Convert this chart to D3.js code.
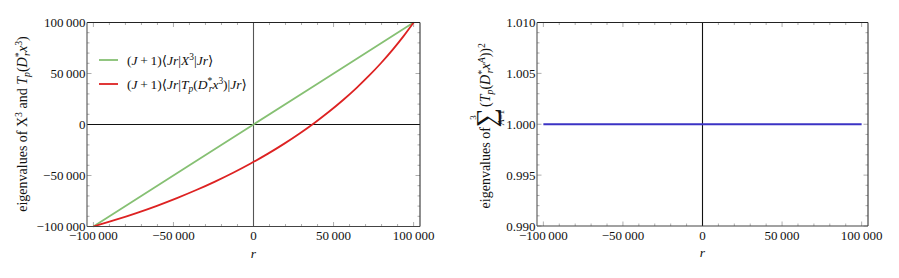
<!DOCTYPE html>
<html><head><meta charset="utf-8">
<script src="https://cdn.jsdelivr.net/npm/d3@7"></script>
<style>
body{margin:0;background:#fff;}
svg{display:block;}
svg text{font-family:"Liberation Serif","Times New Roman",Times,"DejaVu Serif",serif;fill:#111;}
</style></head><body>
<svg id="c" width="899" height="278"></svg>
<script>
// ---- data ----
const xTicks = [-100000, -50000, 0, 50000, 100000];
const xTickLabels = ["\u2212100\u2009000", "\u221250\u2009000", "0", "50\u2009000", "100\u2009000"];
const yTicksLeft = [-100000, -50000, 0, 50000, 100000];
const yTickLabelsLeft = ["\u2212100\u2009000", "\u221250\u2009000", "0", "50\u2009000", "100\u2009000"];
const yTicksRight = [0.990, 0.995, 1.000, 1.005, 1.010];
const yTickLabelsRight = ["0.990", "0.995", "1.000", "1.005", "1.010"];

// green: (J+1)<Jr|X^3|Jr>
const rGreen = [-100000, 0, 100000];
const valGreen = [-100000, 0, 100000];
// red: (J+1)<Jr|Tp(D x^3)|Jr>
const rRed = [-100000, -86390, -73160, -60310, -47840, -35750, -24040, -12710, -1760, 8810, 19000,
              28810, 38240, 47290, 55960, 64250, 72160, 79690, 86840, 93610, 100000];
const valRed = [-100000, -93610, -86840, -79690, -72160, -64250, -55960, -47290, -38240, -28810, -19000,
                -8810, 1760, 12710, 24040, 35750, 47840, 60310, 73160, 86390, 100000];
// blue: sum_A (Tp(D x^A))^2
const rBlue = [-100000, -50000, 0, 50000, 100000];
const valBlue = [1.0, 1.0, 1.0, 1.0, 1.0];

const svg = d3.select("#c");

function panel(opt){
  const g = svg.append("g");
  const x = d3.scaleLinear().domain([-104000, 104000]).range([opt.x0, opt.x1]);
  const y = d3.scaleLinear().domain(opt.ydom).range([opt.y1, opt.y0]);
  const tickCol = "#999";
  const xMinor = d3.range(-100000, 100001, 10000);
  xMinor.forEach(v=>{
    const maj = xTicks.includes(v);
    const L = maj ? 4.5 : 2.5;
    g.append("line").attr("x1",x(v)).attr("x2",x(v)).attr("y1",opt.y1).attr("y2",opt.y1-L)
      .attr("stroke",tickCol).attr("stroke-width",0.8);
    g.append("line").attr("x1",x(v)).attr("x2",x(v)).attr("y1",opt.y0).attr("y2",opt.y0+L)
      .attr("stroke",tickCol).attr("stroke-width",0.8);
  });
  opt.yMinor.forEach(v=>{
    const maj = opt.yTicks.some(t=>Math.abs(t-v)<1e-9);
    const L = maj ? 4.5 : 2.5;
    g.append("line").attr("y1",y(v)).attr("y2",y(v)).attr("x1",opt.x0).attr("x2",opt.x0+L)
      .attr("stroke",tickCol).attr("stroke-width",0.8);
    g.append("line").attr("y1",y(v)).attr("y2",y(v)).attr("x1",opt.x1).attr("x2",opt.x1-L)
      .attr("stroke",tickCol).attr("stroke-width",0.8);
  });
  g.append("line").attr("x1",x(0)).attr("x2",x(0)).attr("y1",opt.y0).attr("y2",opt.y1)
    .attr("stroke",opt.vAxisCol).attr("stroke-width",1.1);
  if (opt.hAxis) {
    g.append("line").attr("x1",opt.x0).attr("x2",opt.x1).attr("y1",y(0)).attr("y2",y(0))
      .attr("stroke","#111").attr("stroke-width",1.1);
  }
  const line = d3.line().x(d=>x(d[0])).y(d=>y(d[1])).curve(d3.curveCatmullRom.alpha(0.5));
  opt.series.forEach(s=>{
    const data = s.r.map((r,i)=>[r, s.v[i]]);
    g.append("path").datum(data).attr("d", line).attr("fill","none")
      .attr("stroke", s.color).attr("stroke-width", s.w);
  });
  g.append("line").attr("x1",opt.x0).attr("x2",opt.x1).attr("y1",opt.y0).attr("y2",opt.y0).attr("stroke","#222").attr("stroke-width",1.1);
  g.append("line").attr("x1",opt.x1).attr("x2",opt.x1).attr("y1",opt.y0).attr("y2",opt.y1).attr("stroke","#333").attr("stroke-width",1.1);
  g.append("line").attr("x1",opt.x0).attr("x2",opt.x1).attr("y1",opt.y1).attr("y2",opt.y1).attr("stroke","#444").attr("stroke-width",1.1);
  g.append("line").attr("x1",opt.x0).attr("x2",opt.x0).attr("y1",opt.y0).attr("y2",opt.y1).attr("stroke","#555").attr("stroke-width",1.1);
  xTicks.forEach((v,i)=>{
    g.append("text").attr("x",x(v)).attr("y",opt.y1+13.5).attr("text-anchor","middle")
      .attr("font-size",13).text(xTickLabels[i]);
  });
  opt.yTicks.forEach((v,i)=>{
    g.append("text").attr("x",opt.x0-1.5).attr("y",y(v)+4.5).attr("text-anchor","end")
      .attr("font-size",13).text(opt.yLabels[i]);
  });
  g.append("text").attr("x",(opt.x0+opt.x1)/2).attr("y",opt.y1+31).attr("text-anchor","middle")
    .attr("font-size",13.5).attr("font-style","italic").text("r");
  return {x,y,g};
}

function rich(textSel, segs, fs){
  let cur = 0;
  segs.forEach(s=>{
    const shift = s.sh || 0;
    const size = s.small ? fs*0.7 : fs;
    const ts = textSel.append("tspan").text(s.t).attr("font-size", size);
    const dy = -(shift - cur);
    if (dy !== 0) ts.attr("dy", dy);
    if (s.it) ts.attr("font-style","italic");
    if (s.dx) ts.attr("dx", s.dx);
    cur = shift;
  });
}

panel({x0:87, x1:420, y0:22.5, y1:226.5, ydom:[-100000,100000],
  yTicks:yTicksLeft, yLabels:yTickLabelsLeft, yMinor:d3.range(-100000,100001,10000),
  vAxisCol:"#555", hAxis:true,
  series:[{r:rGreen, v:valGreen, color:"#86c073", w:1.8},
          {r:rRed, v:valRed, color:"#dd2222", w:1.8}]});

panel({x0:537, x1:868, y0:22.5, y1:226, ydom:[0.99,1.01],
  yTicks:yTicksRight, yLabels:yTickLabelsRight, yMinor:d3.range(0,21).map(i=>0.99+i*0.001),
  vAxisCol:"#111", hAxis:false,
  series:[{r:rBlue, v:valBlue, color:"#3b33c4", w:1.8}]});

// legend
const Dr = [{t:"D",it:1},{t:"*",sh:5,small:1},{t:"r",it:1,sh:-3,small:1,dx:-3.5}];
const leg = [{c:"#86c073", y:60, segs:[{t:"(",},{t:"J",it:1},{t:"\u2009+\u20091)\u27E8"},{t:"Jr",it:1},{t:"|"},{t:"X",it:1},{t:"3",sh:5,small:1},{t:"|",sh:0},{t:"Jr",it:1},{t:"\u27E9"}]},
             {c:"#dd2222", y:84, segs:[{t:"("},{t:"J",it:1},{t:"\u2009+\u20091)\u27E8"},{t:"Jr",it:1},{t:"|"},{t:"T",it:1},{t:"p",it:1,sh:-3,small:1},{t:"(",sh:0}].concat(Dr,[{t:"x",it:1,sh:0},{t:"3",sh:5,small:1},{t:")|",sh:0},{t:"Jr",it:1},{t:"\u27E9"}])}];
leg.forEach(l=>{
  svg.append("line").attr("x1",99).attr("x2",118).attr("y1",l.y).attr("y2",l.y).attr("stroke",l.c).attr("stroke-width",1.8);
  const t = svg.append("text").attr("x",127).attr("y",l.y+4.5).attr("font-size",13.5);
  rich(t, l.segs, 13.5);
});

// left y label
{
  const t = svg.append("text").attr("transform","translate(27,124) rotate(-90)").attr("text-anchor","middle").attr("font-size",14);
  rich(t, [{t:"eigenvalues of X"},{t:"3",sh:5,small:1},{t:" and ",sh:0},{t:"T",it:1},{t:"p",it:1,sh:-3,small:1},{t:"(",sh:0}].concat(Dr,[{t:"x",it:1,sh:0},{t:"3",sh:5,small:1},{t:")",sh:0}]), 14);
}
// right y label
{
  const g = svg.append("g").attr("transform","translate(490,124) rotate(-90)");
  const fs = 14;
  let xcur = 0;
  const t1 = g.append("text").attr("x",0).attr("y",0).attr("font-size",fs).text("eigenvalues of ");
  xcur += t1.node().getComputedTextLength();
  const sig = g.append("text").attr("x",xcur).attr("y",5).attr("font-size",27).text("\u2211");
  const sw = sig.node().getComputedTextLength();
  g.append("text").attr("x",xcur+sw/2).attr("y",-14.5).attr("text-anchor","middle").attr("font-size",9).text("3");
  const lo = g.append("text").attr("x",xcur+sw/2).attr("y",14).attr("text-anchor","middle").attr("font-size",9);
  lo.append("tspan").attr("font-style","italic").text("A");
  lo.append("tspan").text("=1");
  xcur += sw + 1;
  const t2 = g.append("text").attr("x",xcur).attr("y",0).attr("font-size",fs);
  rich(t2, [{t:"("},{t:"T",it:1},{t:"p",it:1,sh:-3,small:1},{t:"(",sh:0}].concat(Dr,[{t:"x",it:1,sh:0},{t:"A",it:1,sh:5,small:1},{t:"))",sh:0},{t:"2",sh:5,small:1}]), fs);
  xcur += t2.node().getComputedTextLength();
  g.selectAll("text").attr("transform",`translate(${-xcur/2},0)`);
}
</script>
</body></html>
